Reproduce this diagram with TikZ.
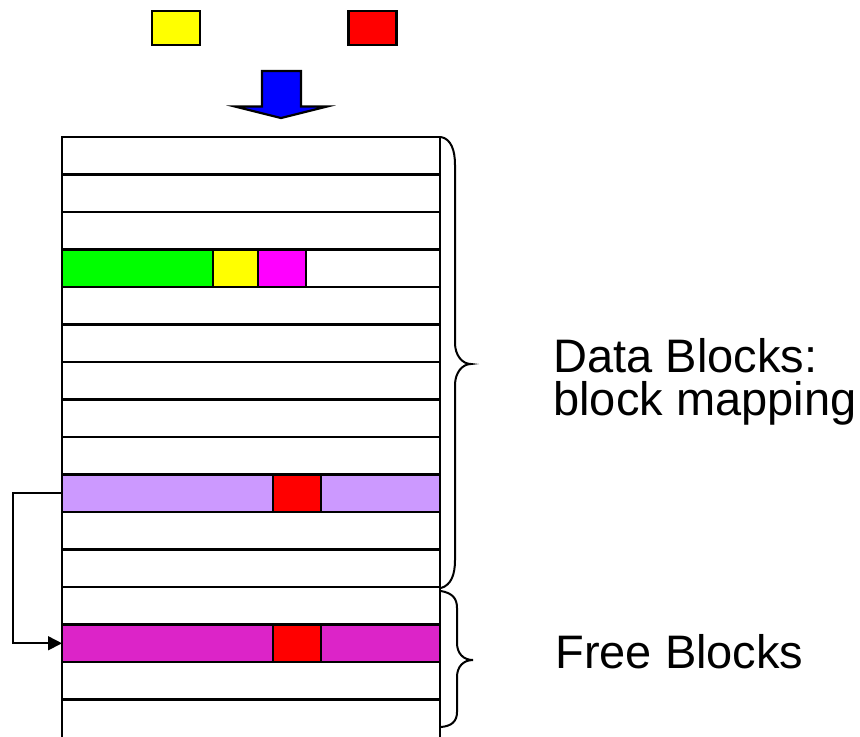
\documentclass[tikz,border=0pt]{standalone}
\usepackage{fontspec}
\setmainfont{Liberation Sans}
\usetikzlibrary{arrows.meta}

\definecolor{cgreen}{RGB}{0,255,0}
\definecolor{cyellow}{RGB}{255,255,0}
\definecolor{cmagenta}{RGB}{255,0,255}
\definecolor{cred}{RGB}{255,0,0}
\definecolor{clavender}{RGB}{204,153,255}
\definecolor{cplum}{RGB}{220,36,200}
\definecolor{cblue}{RGB}{0,0,255}

\tikzset{
  rowbox/.style={draw=black, line width=1.45pt, fill=white, rectangle,
    minimum width=189pt, minimum height=18.75pt, inner sep=0pt, outer sep=0pt,
    anchor=north west},
  cell/.style={draw=black, line width=1.1pt, rectangle, inner sep=0pt, outer sep=0pt,
    minimum height=18.75pt, anchor=north west},
  chip/.style={draw=black, line width=1.3pt, rectangle, inner sep=0pt,
    minimum width=24pt, minimum height=17pt},
  brace/.style={draw=black, line width=1pt},
  label/.style={font=\fontsize{23.5pt}{28pt}\selectfont, inner sep=0pt, anchor=base west},
  link/.style={draw=black, line width=0.8pt, -{Triangle[length=7pt,width=7pt]}},
}

\begin{document}
\begin{tikzpicture}[x=0.5pt, y=-0.5pt]
\useasboundingbox (0,0) rectangle (860,736);

% incoming blocks
\node[chip, fill=cyellow] (inYellow) at (176,28) {};
\node[chip, fill=cred] (inRed) at (372.5,28) {};

% downward arrow into the block array
\draw[line width=1.1pt, fill=cblue, line join=miter]
  (262,71) -- (301,71) -- (301,106.5) -- (327,106.5) -- (281,118)
  -- (235,106.5) -- (262,106.5) -- cycle;

% block rows; the last one runs past the lower edge
\foreach \i in {0,...,14} {
  \node[rowbox] (r\i) at (62,{137+37.5*\i}) {};
}
\node[rowbox, minimum height=24pt] (r15) at (62,699.5) {};

% row 3: partially filled block
\node[cell, fill=cgreen, minimum width=75.5pt] (g3) at (r3.north west) {};
\node[cell, fill=cyellow, minimum width=22.5pt] (y3) at (g3.north east) {};
\node[cell, fill=cmagenta, minimum width=24pt] (m3) at (y3.north east) {};

% row 9: live copy
\node[cell, fill=clavender, minimum width=189pt] (l9) at (r9.north west) {};
\node[cell, fill=cred, minimum width=24pt] (c9) at (273,474.5) {};

% row 13: new copy in the free area
\node[cell, fill=cplum, minimum width=189pt] (p13) at (r13.north west) {};
\node[cell, fill=cred, minimum width=24pt] (c13) at (273,624.5) {};

% copy connector
\draw[link] (l9.west) -- ++(-49,0) |- (p13.west);

% braces
\draw[brace] (441,137) .. controls (451,139) and (455,150) .. (455,165)
  -- (455,343) .. controls (455,355) and (462,364) .. (471,364)
  .. controls (462,364) and (455,373) .. (455,385)
  -- (455,560) .. controls (455,575) and (451,585) .. (441,588);
\draw[brace] (441,591) .. controls (452,593) and (457,598) .. (457,608)
  -- (457,643) .. controls (457,653) and (463,660) .. (473,660)
  .. controls (463,660) and (457,667) .. (457,677)
  -- (457,712) .. controls (457,721) and (452,726) .. (441,727);

% labels
\node[label] (dataA) at (553,372) {Data Blocks:};
\node[label] (dataB) at (553,415) {block mapping};
\node[label] (free) at (555,668) {Free Blocks};
\end{tikzpicture}
\end{document}
